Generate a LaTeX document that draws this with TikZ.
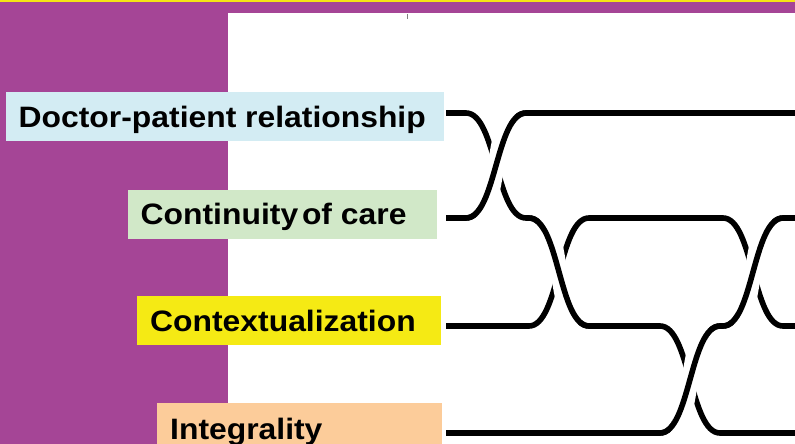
\documentclass[tikz,border=0pt]{standalone}
\usepackage{graphicx}
\usepackage{fontspec}
\setmainfont{Liberation Sans}
\usetikzlibrary{calc}
\definecolor{plum}{HTML}{A54596}
\definecolor{topline}{HTML}{F5E514}
\definecolor{tagblue}{HTML}{D3ECF3}
\definecolor{taggreen}{HTML}{D1E8C8}
\definecolor{tagyellow}{HTML}{F5EA14}
\definecolor{tagpeach}{HTML}{FCCC9A}
\newcommand\stretchx[1]{\scalebox{1.08}[1]{#1}}
\begin{document}
\begin{tikzpicture}[x=1pt,y=-1pt,
  strand/.style={line width=5.6pt, black},
  halo/.style={line width=17pt, white, shorten <=12pt, shorten >=12pt},
  tagbox/.style={inner sep=0pt, anchor=north west},
  tagtext/.style={inner sep=0pt, anchor=base west,
    font=\fontsize{29.5}{32}\selectfont\bfseries}]
\useasboundingbox (0,0) rectangle (795,444);

% frame: purple band and left column, yellow rule on top
\fill[white] (0,0) rectangle (795,444);
\fill[plum] (0,0) rectangle (795,13);
\fill[plum] (0,0) rectangle (228,444);
\fill[topline] (0,0) rectangle (795,2.5);
\draw[gray, line width=1pt] (407,14) -- (407,19);

% coloured tags
\node[tagbox, fill=tagblue,   minimum width=438, minimum height=49] (b1) at (6,92) {};
\node[tagbox, fill=taggreen,  minimum width=309, minimum height=49] (b2) at (128,190) {};
\node[tagbox, fill=tagyellow, minimum width=304, minimum height=49] (b3) at (137,296) {};
\node[tagbox, fill=tagpeach,  minimum width=285, minimum height=41] (b4) at (157,403) {};

\node[tagtext] (t1) at (18.5,127) {\stretchx{Doctor-patient relationship}};
\node[tagtext] (t2) at (140.5,224.5) {\stretchx{Continuity\hspace{0.12em}of care}};
\node[tagtext] (t3) at (150,331.5) {\stretchx{Contextualization}};
\node[tagtext] (t4) at (170,439) {\stretchx{Integrality}};

% strand levels and crossing ends
\coordinate (s1) at (446,113);  \coordinate (s2) at (446,218);
\coordinate (s3) at (446,326);  \coordinate (s4) at (446,433);
\coordinate (e1) at (795,113);  \coordinate (e2) at (795,218);
\coordinate (e3) at (795,326);  \coordinate (e4) at (795,433);
% crossing A (levels 1-2)
\coordinate (a1) at (466,113); \coordinate (a2) at (466,218);
\coordinate (a3) at (526,113); \coordinate (a4) at (526,218);
% crossing B (levels 2-3)
\coordinate (b5) at (529,218); \coordinate (b6) at (529,326);
\coordinate (b7) at (589,218); \coordinate (b8) at (589,326);
% crossing D (levels 3-4)
\coordinate (d1) at (660,326); \coordinate (d2) at (660,433);
\coordinate (d3) at (720,326); \coordinate (d4) at (720,433);
% crossing C (levels 2-3, right)
\coordinate (c1) at (723,218); \coordinate (c2) at (723,326);
\coordinate (c3) at (783,218); \coordinate (c4) at (783,326);

% strands
\draw[strand] (s1) -- (a1) .. controls ($(a1)+(30,0)$) and ($(a4)+(-30,0)$) .. (a4) -- (b5)
  .. controls ($(b5)+(30,0)$) and ($(b8)+(-30,0)$) .. (b8) -- (d1)
  .. controls ($(d1)+(30,0)$) and ($(d4)+(-30,0)$) .. (d4) -- (e4);
\draw[strand] (s2) -- (a2) .. controls ($(a2)+(30,0)$) and ($(a3)+(-30,0)$) .. (a3) -- (e1);
\draw[strand] (s3) -- (b6) .. controls ($(b6)+(30,0)$) and ($(b7)+(-30,0)$) .. (b7) -- (c1)
  .. controls ($(c1)+(30,0)$) and ($(c4)+(-30,0)$) .. (c4) -- (e3);
\draw[strand] (s4) -- (d2) .. controls ($(d2)+(30,0)$) and ($(d3)+(-30,0)$) .. (d3) -- (c2)
  .. controls ($(c2)+(30,0)$) and ($(c3)+(-30,0)$) .. (c3) -- (e2);

% over-crossings: clear a gap, then redraw the upper strand
\draw[halo]   (a2) .. controls ($(a2)+(30,0)$) and ($(a3)+(-30,0)$) .. (a3);
\draw[strand] (a2) .. controls ($(a2)+(30,0)$) and ($(a3)+(-30,0)$) .. (a3);
\draw[halo]   (b5) .. controls ($(b5)+(30,0)$) and ($(b8)+(-30,0)$) .. (b8);
\draw[strand] (b5) .. controls ($(b5)+(30,0)$) and ($(b8)+(-30,0)$) .. (b8);
\draw[halo]   (d2) .. controls ($(d2)+(30,0)$) and ($(d3)+(-30,0)$) .. (d3);
\draw[strand] (d2) .. controls ($(d2)+(30,0)$) and ($(d3)+(-30,0)$) .. (d3);
\draw[halo]   (c2) .. controls ($(c2)+(30,0)$) and ($(c3)+(-30,0)$) .. (c3);
\draw[strand] (c2) .. controls ($(c2)+(30,0)$) and ($(c3)+(-30,0)$) .. (c3);
\end{tikzpicture}
\end{document}
